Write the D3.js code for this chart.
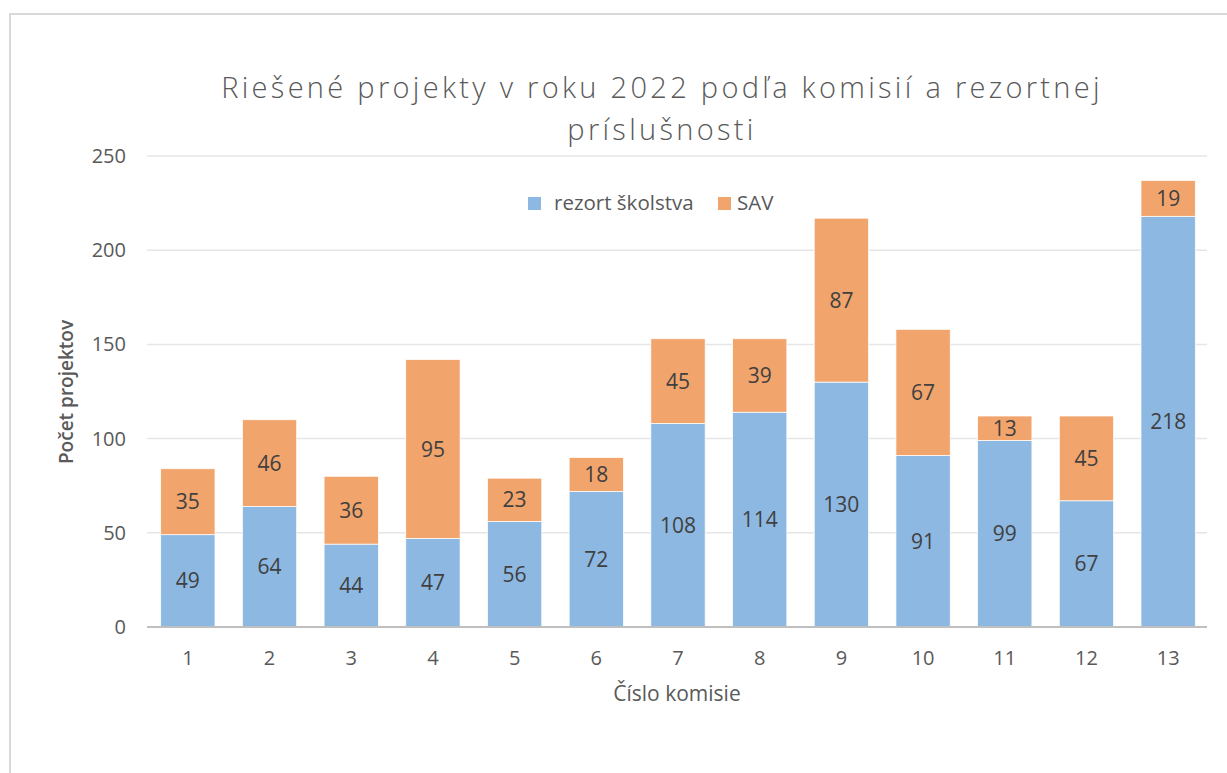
<!DOCTYPE html>
<html>
<head>
<meta charset="utf-8">
<script src="https://cdn.jsdelivr.net/npm/d3@7"></script>
<style>
  html, body { margin: 0; padding: 0; background: #fff; }
  svg { display: block; }
</style>
</head>
<body>
<svg id="chart" width="1227" height="773"></svg>
<script>
const categories = ["1","2","3","4","5","6","7","8","9","10","11","12","13"];
const skolstvo = [49, 64, 44, 47, 56, 72, 108, 114, 130, 91, 99, 67, 218];
const sav = [35, 46, 36, 95, 23, 18, 45, 39, 87, 67, 13, 45, 19];
const seriesNames = ["rezort školstva", "SAV"];
const yTicks = [0, 50, 100, 150, 200, 250];
const titleLines = ["Riešené projekty v roku 2022 podľa komisií a rezortnej", "príslušnosti"];
const xTitle = "Číslo komisie";
const yTitle = "Počet projektov";

(function () {
const colors = ["#8db8e2", "#f1a46c"];
const textColor = "#595959";
const font = "'Open Sans', 'Noto Sans', sans-serif";

const svg = d3.select("#chart");

// chart border
svg.append("rect").attr("x", 10).attr("y", 14).attr("width", 1240).attr("height", 800)
  .attr("fill", "#fff").attr("stroke", "#d9d9d9").attr("stroke-width", 2);

const pLeft = 147, pRight = 1209, pTop = 156, pBottom = 627;

const x = d3.scaleBand().domain(categories).range([pLeft, pRight]).paddingInner(0.335).paddingOuter(0.1675);
const y = d3.scaleLinear().domain([0, 250]).range([pBottom, pTop]);

// gridlines
svg.append("g").selectAll("line").data(yTicks.filter(t => t > 0)).join("line")
  .attr("x1", pLeft).attr("x2", pRight - 2)
  .attr("y1", d => y(d)).attr("y2", d => y(d))
  .attr("stroke", "#e6e6e6").attr("stroke-width", 1.5);

// y tick labels
svg.append("g").selectAll("text").data(yTicks).join("text")
  .attr("x", 126).attr("y", d => y(d)).attr("dy", "0.35em")
  .attr("text-anchor", "end").attr("font-family", font).attr("font-size", 20)
  .attr("fill", textColor).text(d => d);

// stacked data
const rows = categories.map((c, i) => ({ cat: c, s0: skolstvo[i], s1: sav[i] }));
const stack = d3.stack().keys(["s0", "s1"])(rows);

const g = svg.append("g");
stack.forEach((layer, li) => {
  g.append("g").selectAll("rect").data(layer).join("rect")
    .attr("x", d => x(d.data.cat))
    .attr("width", x.bandwidth())
    .attr("y", d => y(d[1]))
    .attr("height", d => y(d[0]) - y(d[1]))
    .attr("fill", colors[li])
    .attr("stroke", "#ffffff").attr("stroke-width", 0.75);
});

// data labels
stack.forEach((layer, li) => {
  g.append("g").selectAll("text").data(layer).join("text")
    .attr("x", d => x(d.data.cat) + x.bandwidth() / 2)
    .attr("y", d => y((d[0] + d[1]) / 2))
    .attr("dy", "0.36em")
    .attr("text-anchor", "middle").attr("font-family", font).attr("font-size", 21)
    .attr("fill", "#404040").text(d => d[1] - d[0]);
});

// x axis line
svg.append("line").attr("x1", pLeft).attr("x2", pRight - 2).attr("y1", pBottom).attr("y2", pBottom)
  .attr("stroke", "#bfbfbf").attr("stroke-width", 2);

// x tick labels
svg.append("g").selectAll("text").data(categories).join("text")
  .attr("x", d => x(d) + x.bandwidth() / 2).attr("y", 658).attr("dy", "0.35em")
  .attr("text-anchor", "middle").attr("font-family", font).attr("font-size", 20)
  .attr("fill", textColor).text(d => d);

// axis titles
svg.append("text").attr("x", 677).attr("y", 694).attr("dy", "0.35em")
  .attr("text-anchor", "middle").attr("font-family", font).attr("font-size", 21)
  .attr("fill", textColor).text(xTitle);

svg.append("text").attr("transform", "translate(66,392) rotate(-90)").attr("dy", "0.35em")
  .attr("text-anchor", "middle").attr("font-family", font).attr("font-size", 19).attr("font-weight", 600)
  .attr("fill", textColor).text(yTitle);

// title
svg.append("g").selectAll("text").data(titleLines).join("text")
  .attr("x", 662).attr("y", (d, i) => 88 + i * 42).attr("dy", "0.35em")
  .attr("text-anchor", "middle").attr("font-family", font).attr("font-size", 29).attr("font-weight", 300)
  .attr("letter-spacing", 3.3)
  .attr("fill", textColor).text(d => d);

// legend
const legendPos = [528, 718];
const lg = svg.append("g");
seriesNames.forEach((n, i) => {
  lg.append("rect").attr("x", legendPos[i]).attr("y", 197).attr("width", 13).attr("height", 13).attr("fill", colors[i]);
  lg.append("text").attr("x", legendPos[i] + (i === 0 ? 26 : 19)).attr("y", 203).attr("dy", "0.35em")
    .attr("font-family", font).attr("font-size", 20.5).attr("fill", textColor).text(n);
});
})();
</script>
</body>
</html>
